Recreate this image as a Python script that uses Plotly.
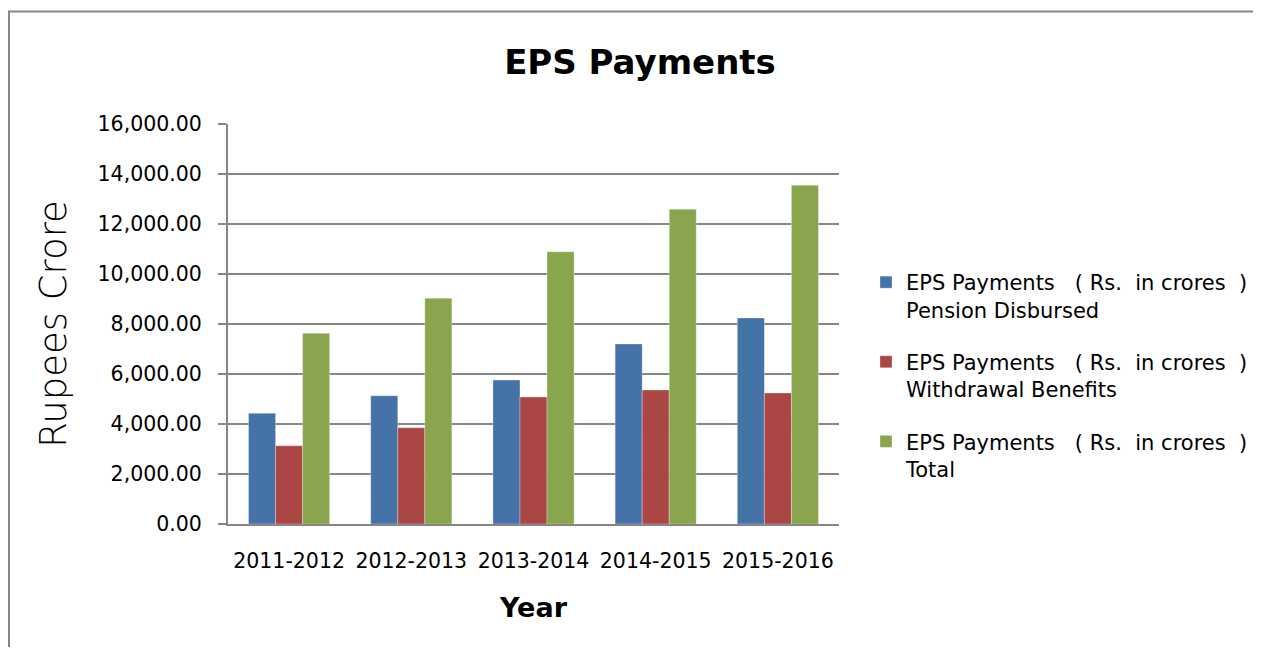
import plotly.graph_objects as go

years = ["2011-2012", "2012-2013", "2013-2014", "2014-2015", "2015-2016"]
pension = [4430, 5130, 5760, 7200, 8240]
withdrawal = [3130, 3850, 5080, 5360, 5240]
total = [7630, 9030, 10890, 12590, 13550]

nb = "\u00a0"
names = [
    f"EPS Payments{nb*3}({nb}Rs.{nb*2}in crores{nb*2})<br>Pension Disbursed",
    f"EPS Payments{nb*3}({nb}Rs.{nb*2}in crores{nb*2})<br>Withdrawal Benefits",
    f"EPS Payments{nb*3}({nb}Rs.{nb*2}in crores{nb*2})<br>Total",
]
colors = ["#4572A7", "#AA4643", "#89A54E"]
series = [pension, withdrawal, total]

# page has an 8px body margin; work in reference-screen pixels minus 8
OFF = 8
W, H = 1262 - 2 * OFF, 655 - 2 * OFF
L, R, T, B = 228 - OFF, 839 - OFF, 124 - OFF, 524 - OFF

FONT = "DejaVu Sans, Verdana, sans-serif"

fig = go.Figure()
for i, (nm, vals, c) in enumerate(zip(names, series, colors)):
    fig.add_trace(go.Bar(x=years, y=vals, name=nm,
                         marker=dict(color=c, line=dict(width=0.5, color="rgba(255,255,255,0.6)")),
                         legendgroup=f"g{i}"))

def px_x(p):
    return (p - OFF - L) / (R - L)

def px_y(p):
    return (B - (p - OFF)) / (B - T)

bx0, by0 = px_x(9), px_y(11.5)
bx1, by1 = px_x(1253), px_y(660)

fig.update_layout(
    width=W, height=H,
    margin=dict(l=L, r=W - R, t=T, b=H - B, pad=0, autoexpand=False),
    paper_bgcolor="white", plot_bgcolor="white",
    barmode="group", bargap=0.336, bargroupgap=0,
    font=dict(family=FONT, color="black"),
    title=dict(text="<b>EPS Payments</b>", x=px_x(640), xref="paper", xanchor="center",
               y=1 - (62 - OFF) / H, yref="container", yanchor="middle",
               font=dict(size=34, family=FONT, color="black")),
    xaxis=dict(
        showgrid=False, showline=True, linecolor="#868686", linewidth=2,
        ticks="", tickfont=dict(size=20.5, family=FONT),
        ticklabelstandoff=17,
        title=dict(text="<b>Year</b>", font=dict(size=27, family=FONT), standoff=27),
    ),
    yaxis=dict(
        range=[0, 16000], dtick=2000, tickformat=",.2f",
        showgrid=True, gridcolor="#868686", gridwidth=2,
        showline=True, linecolor="#868686", linewidth=2,
        ticks="outside", ticklen=8, tickcolor="#868686", tickwidth=2,
        tickfont=dict(size=20.5, family=FONT),
        ticklabelstandoff=12, zeroline=False,
        title=dict(text="Rupees Crore",
                   font=dict(size=37, family="DejaVu Sans Light, DejaVu Sans ExtraLight, DejaVu Sans", weight=200),
                   standoff=20),
    ),
    legend=dict(
        x=px_x(866), xanchor="left", y=px_y(262), yanchor="top",
        font=dict(size=21, family=FONT), valign="top",
        traceorder="grouped", tracegroupgap=22, bgcolor="rgba(0,0,0,0)",
    ),
    shapes=[dict(type="path", xref="paper", yref="paper",
                 path=f"M {bx0} {by1} L {bx0} {by0} L {bx1} {by0}",
                 line=dict(color="#868686", width=2), layer="below")],
)

fig.write_html("out.html")
